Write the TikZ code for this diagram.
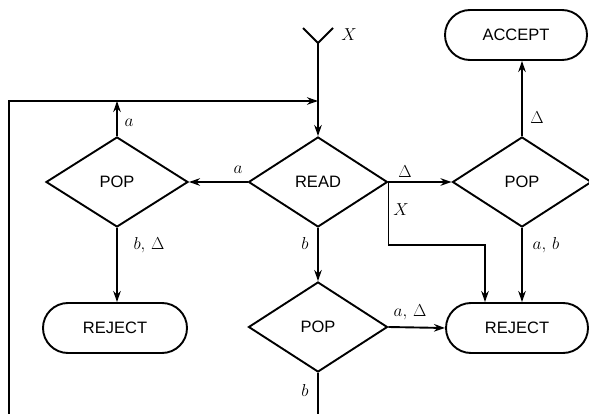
\documentclass[tikz,border=0pt]{standalone}
\usepackage{fontspec}
\setsansfont{Liberation Sans}
\usetikzlibrary{shapes.geometric,shapes.misc,arrows.meta}
\begin{document}
\begin{tikzpicture}[x=1pt,y=-1pt,line width=1.9pt,
  boxfont/.style={font=\sffamily\fontsize{16.5}{16.5}\selectfont},
  dec/.style={diamond,draw,minimum width=139pt,minimum height=90pt,inner sep=0pt,boxfont},
  term/.style={rounded rectangle,draw,minimum width=142pt,minimum height=50pt,inner sep=0pt,boxfont},
  arr/.style={-{Stealth[length=11pt,width=7.5pt,inset=3.5pt]}},
  lbl/.style={font=\fontsize{18}{18}\selectfont,inner sep=0pt}]
\useasboundingbox (0,0) rectangle (589,414);
% nodes
\node[dec] (read) at (318,182) {READ};
\node[dec,minimum width=142pt] (popL) at (117,182) {POP};
\node[dec] (popR) at (522,182) {POP};
\node[dec] (popM) at (318,327) {POP};
\node[term] (accept) at (516,35) {ACCEPT};
\node[term,minimum width=144pt] (rejL) at (115,328) {REJECT};
\node[term] (rejR) at (517,328) {REJECT};
% coordinates
\coordinate (yl) at (303,28);
\coordinate (yr) at (333,28);
\coordinate (yj) at (318,43);
\coordinate (loopTop) at (318,101);
\coordinate (loopL) at (9,101);
\coordinate (loopB) at (9,414);
\coordinate (xk) at (485,245);
\coordinate (mb) at (318,414);
% connectors
\draw (yl) -- (yj) -- (yr);
\draw[arr] (yj) -- (read.north);
\draw[arr] (loopB) -- (loopL) -- (loopTop);
\draw[arr] (popL.north) -- (popL.north |- loopTop);
\draw[arr] (read.west) -- (popL.east);
\draw[arr] (read.east) -- (popR.west);
\draw[arr] (read.east) |- (xk) -- (xk |- rejR.north);
\draw[arr] (read.south) -- (popM.north);
\draw[arr] (popL.south) -- (popL.south |- rejL.north);
\draw[arr] (popR.north) -- (popR.north |- accept.south);
\draw[arr] (popR.south) -- (popR.south |- rejR.north);
\draw[arr] (popM.east) -- (rejR.west);
\draw (popM.south) -- (mb);
% labels
\node[lbl] (lX0) at (349,35) {$X$};
\node[lbl] (la1) at (238,170) {$a$};
\node[lbl] (la2) at (129,123) {$a$};
\node[lbl] (lbd) at (149,245) {$b,\,\Delta$};
\node[lbl] (ld1) at (405,172) {$\Delta$};
\node[lbl] (lX1) at (401,210) {$X$};
\node[lbl] (lb1) at (305,243) {$b$};
\node[lbl] (lab) at (546,245) {$a,\,b$};
\node[lbl] (ld2) at (537,118) {$\Delta$};
\node[lbl] (lad) at (410,312) {$a,\,\Delta$};
\node[lbl] (lb2) at (305,390) {$b$};
\end{tikzpicture}
\end{document}
